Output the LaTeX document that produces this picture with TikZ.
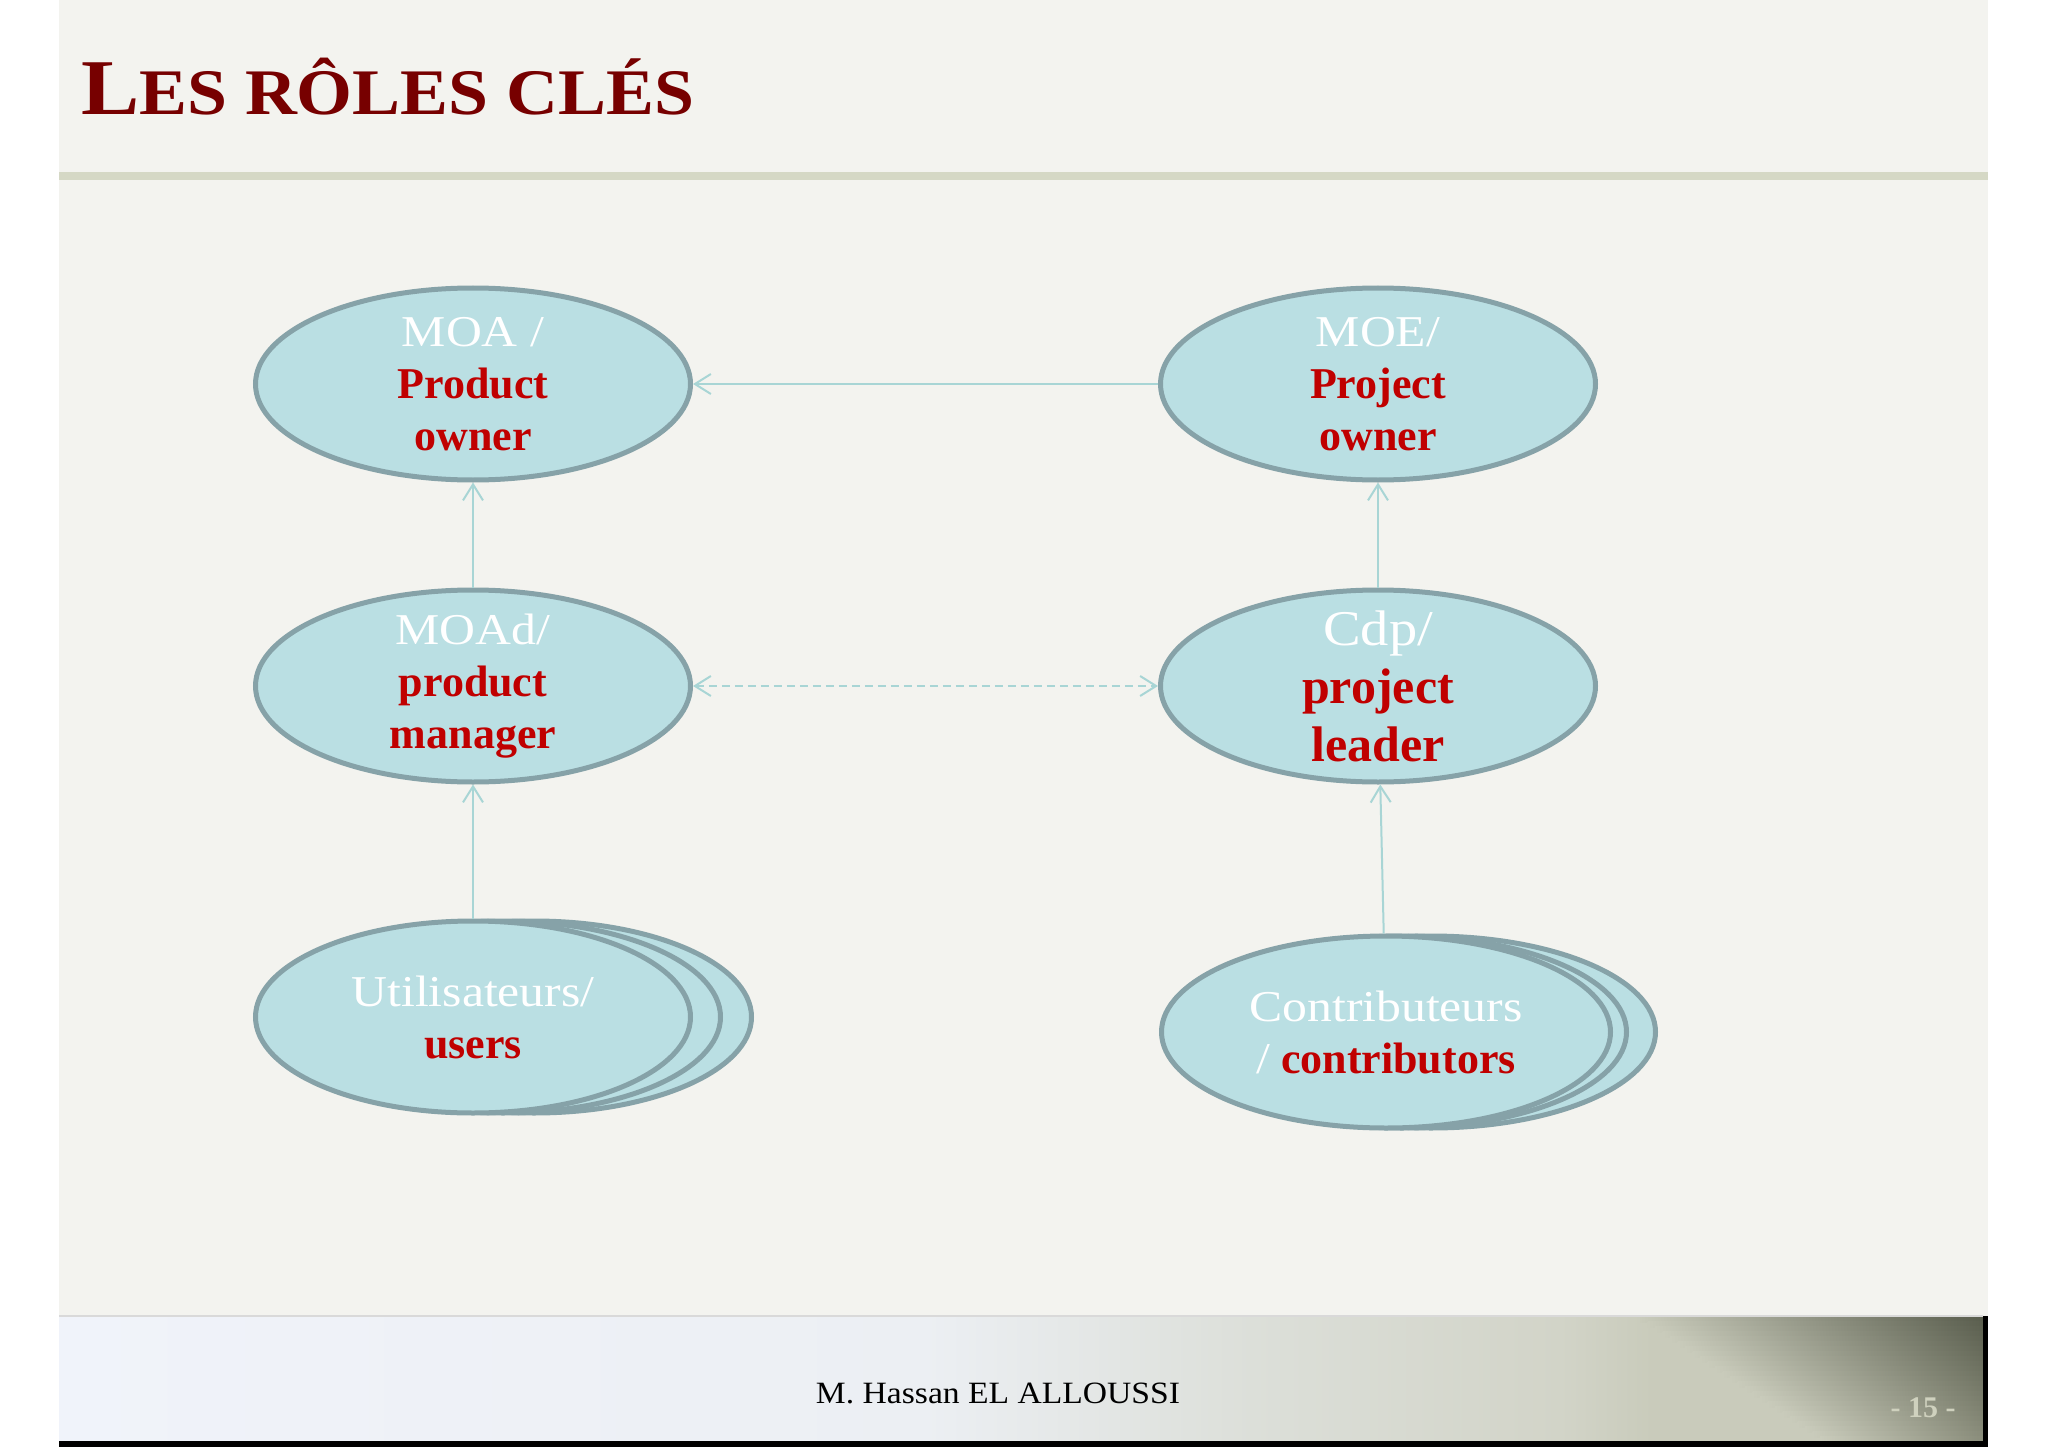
\documentclass[tikz,border=0pt]{standalone}
\usepackage{fontspec}
\setmainfont{Liberation Serif}
\usepackage{graphicx}
\usetikzlibrary{shapes.geometric,arrows.meta}

\definecolor{slidebg}{HTML}{F3F3EF}
\definecolor{rulecol}{HTML}{D5D8C5}
\definecolor{titlered}{HTML}{770000}
\definecolor{nodefill}{HTML}{BADFE3}
\definecolor{nodeedge}{HTML}{86A2A8}
\definecolor{txtred}{HTML}{C00000}
\definecolor{conn}{HTML}{A8D5D5}
\definecolor{pagenum}{HTML}{CFD1BE}
\definecolor{fa}{HTML}{F0F3FA}
\definecolor{fb}{HTML}{ECEFF3}
\definecolor{fc}{HTML}{DCDFD9}
\definecolor{fd}{HTML}{D2D4C8}
\definecolor{fe}{HTML}{C9CBBB}
\definecolor{darkcorner}{HTML}{5A5E4E}
\definecolor{lightcorner}{HTML}{8A8D7B}

% stops between 25bp and 75bp map onto x = 59 .. 1983
\pgfdeclarehorizontalshading{footshade}{100bp}{color(0bp)=(fa); color(25bp)=(fa); color(47.5bp)=(fb); color(56bp)=(fc); color(64bp)=(fd); color(66.4bp)=(fe); color(75bp)=(fe); color(100bp)=(fe)}

\newcommand{\rd}[1]{\textcolor{txtred}{\bfseries #1}}
\newcommand{\wt}[1]{\scalebox{1.13}[1]{#1}}
\newcommand{\smc}[1]{{\fontsize{65}{78}\selectfont #1}}

\tikzset{
  role/.style={ellipse, draw=nodeedge, fill=nodefill, line width=5pt,
    minimum width=435pt, minimum height=192pt, inner xsep=0pt, inner ysep=-30pt,
    align=center, font=\fontsize{44}{52}\selectfont, text=white},
  link/.style={draw=conn, line width=2pt, -{Straight Barb[length=16pt,width=20pt]}},
  dlink/.style={draw=conn, line width=2pt, dash pattern=on 8pt off 5pt,
    {Straight Barb[length=16pt,width=20pt]}-{Straight Barb[length=16pt,width=20pt]}},
}

\begin{document}
\begin{tikzpicture}[x=1pt,y=-1pt]
\useasboundingbox (0,0) rectangle (2048,1447);
\fill[white] (0,0) rectangle (2048,1447);
% slide background
\fill[slidebg] (59,0) rectangle (1988,1316);
\fill[rulecol] (59,172) rectangle (1988,180);
% footer
\shade[shading=footshade] (59,1316) rectangle (1983,1441);
\foreach \i in {0,...,24}{
  \pgfmathsetmacro{\p}{\i*100/24}
  \pgfmathsetmacro{\ya}{1316+\i*5}
  \pgfmathsetmacro{\yb}{\ya+6}
  \pgfmathsetmacro{\xs}{1640+\i*7.5}
  \colorlet{rc}{lightcorner!\p!darkcorner}
  \shade[left color=fe, right color=rc] (\xs,\ya) rectangle (1983,\yb);
}
\draw[line width=1.5pt, color=black!15] (59,1316) -- (1983,1316);
\fill[black] (1983,1316) rectangle (1988,1447);
\fill[black] (59,1441) rectangle (1988,1447);

% title
\node[anchor=base west, inner sep=0pt, text=titlered, font=\fontsize{79}{90}\selectfont\bfseries] (title) at (81,115)
  {\resizebox{613pt}{\height}{L\smc{ES RÔLES CLÉS}}};

% role nodes
\node[role] (moa) at (473,384) {\wt{MOA /}\\\rd{Product}\\\rd{owner}};
\node[role] (moe) at (1378,384) {\wt{MOE/}\\\rd{Project}\\\rd{owner}};
\node[role] (moad) at (473,686) {\wt{MOAd/}\\\rd{product}\\\rd{manager}};
\node[role, font=\fontsize{50}{58}\selectfont] (cdp) at (1378,686) {\wt{Cdp/}\\\rd{project}\\\rd{leader}};

\node[role] (usersc) at (534,1017) {};
\node[role] (usersb) at (503,1017) {};
\node[role] (users) at (473,1017) {\wt{Utilisateurs/}\\\rd{users}};

\node[role, minimum width=449pt] (contribc) at (1431,1032) {};
\node[role, minimum width=449pt] (contribb) at (1402,1032) {};
\node[role, minimum width=449pt] (contrib) at (1386,1032) {\wt{Contributeurs}\\\wt{/} \rd{contributors}};

% connectors
\draw[link] (moe) -- (moa);
\draw[dlink] (moad) -- (cdp);
\draw[link] (moad) -- (moa);
\draw[link] (cdp) -- (moe);
\draw[link] (users) -- (moad);
\draw[link] (contrib) -- (cdp);

% footer texts
\node[font=\fontsize{31}{36}\selectfont] (author) at (998,1393) {\resizebox{364pt}{\height}{M. Hassan EL ALLOUSSI}};
\node[font=\fontsize{30}{36}\selectfont\bfseries, text=pagenum] (pnum) at (1923,1408) {- 15 -};
\end{tikzpicture}
\end{document}
